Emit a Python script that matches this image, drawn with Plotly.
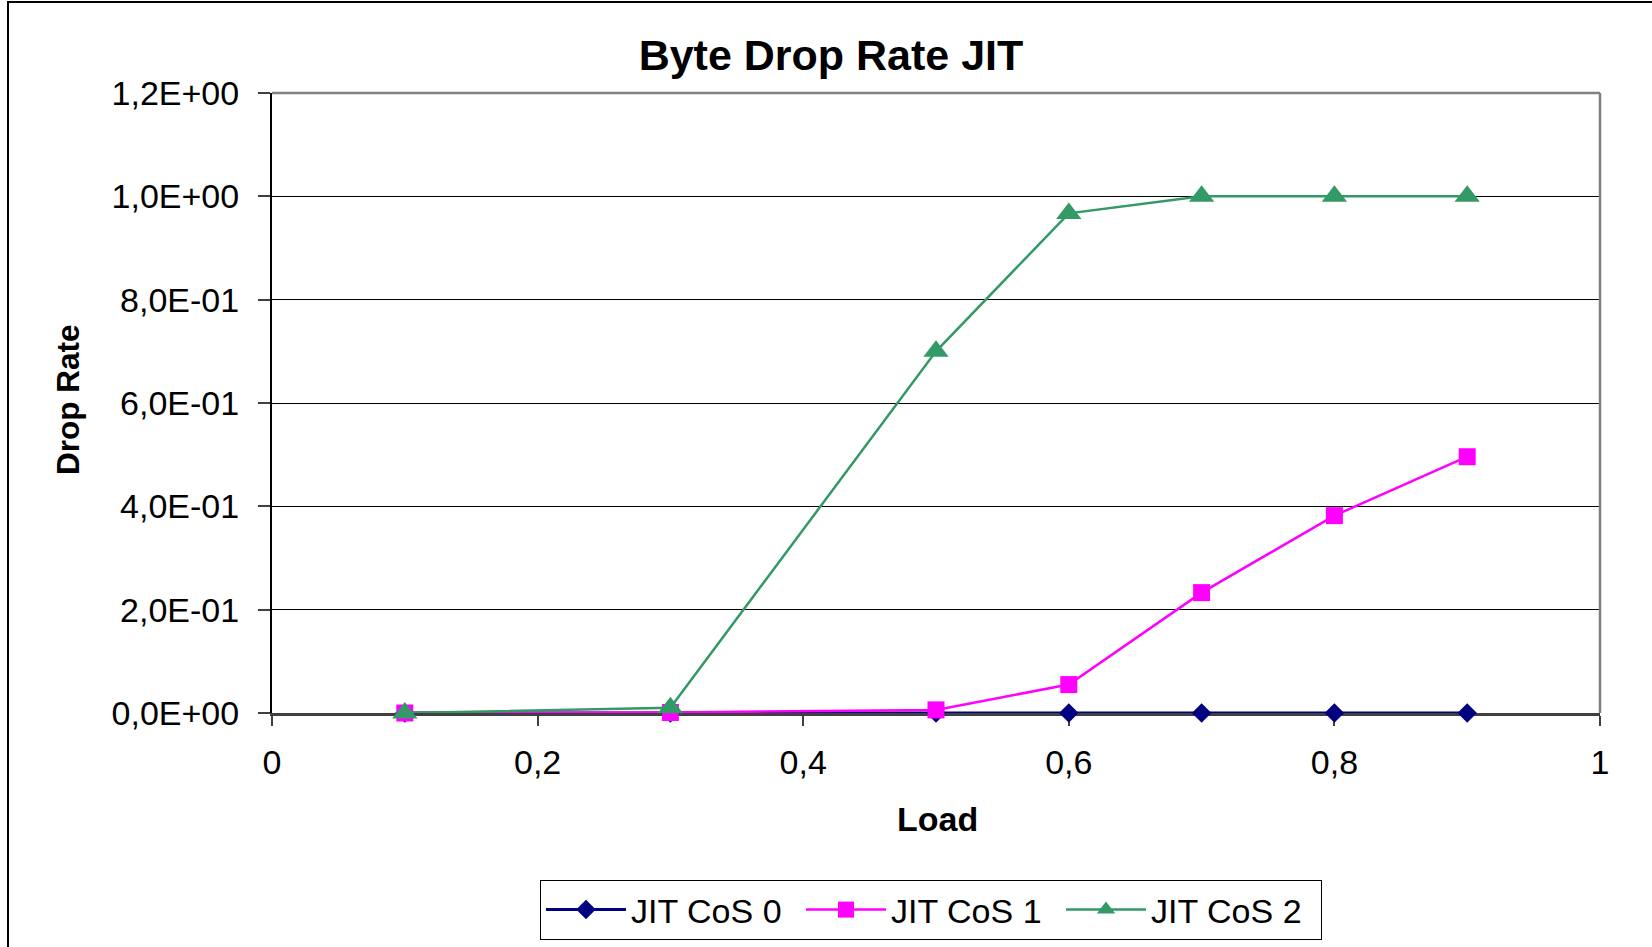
import plotly.graph_objects as go

load = [0.1, 0.3, 0.5, 0.6, 0.7, 0.8, 0.9]
cos0 = [0.0, 0.0, 0.0, 0.0, 0.0, 0.0, 0.0]
cos1 = [0.0, 0.001, 0.006, 0.055, 0.233, 0.382, 0.496]
cos2 = [0.0, 0.010, 0.700, 0.967, 1.0, 1.0, 1.0]
series_names = ["JIT CoS 0", "JIT CoS 1", "JIT CoS 2"]
y_ticks = [0.0, 0.2, 0.4, 0.6, 0.8, 1.0, 1.2]
y_tick_text = ["0,0E+00", "2,0E-01", "4,0E-01", "6,0E-01", "8,0E-01", "1,0E+00", "1,2E+00"]
x_ticks = [0, 0.2, 0.4, 0.6, 0.8, 1]
x_tick_text = ["0", "0,2", "0,4", "0,6", "0,8", "1"]

W, H = 1652, 947
L, R, T, B = 272, 52, 93, 234
pw, ph = W - L - R, H - T - B

def px_x(X):
    return (X - L) / pw

def px_y(Y):
    return (H - B - Y) / ph

FONT = "Liberation Sans, Arial, sans-serif"

fig = go.Figure()
fig.add_trace(go.Scatter(x=load, y=cos0, name=series_names[0], mode="lines+markers",
                         cliponaxis=False,
                         line=dict(color="#000080", width=3),
                         marker=dict(symbol="diamond", size=15, color="#000080")))
fig.add_trace(go.Scatter(x=load, y=cos1, name=series_names[1], mode="lines+markers",
                         cliponaxis=False,
                         line=dict(color="#FF00FF", width=2.5),
                         marker=dict(symbol="square", size=17, color="#FF00FF")))
fig.add_trace(go.Scatter(x=load, y=cos2, name=series_names[2], mode="lines+markers",
                         cliponaxis=False,
                         line=dict(color="#339966", width=2.5),
                         marker=dict(symbol="triangle-up", size=22, color="#339966")))

fig.update_layout(
    width=W, height=H,
    margin=dict(l=L, r=R, t=T, b=B, autoexpand=False),
    paper_bgcolor="white", plot_bgcolor="white",
    font=dict(family=FONT, color="black"),
    title=dict(text="<b>Byte Drop Rate JIT</b>", x=831 / W, xref="container", xanchor="center",
               y=1 - 55 / H, yref="container", yanchor="middle",
               font=dict(size=43, family=FONT, color="black")),
    showlegend=True,
    legend=dict(orientation="h", x=px_x(931), xanchor="center", y=px_y(880), yanchor="top",
                bordercolor="black", borderwidth=1, bgcolor="white",
                font=dict(size=34, family=FONT, color="black"),
                itemwidth=80, itemsizing="trace",
                entrywidth=165, entrywidthmode="pixels", tracegroupgap=0),
    xaxis=dict(range=[0, 1], tickvals=x_ticks, ticktext=x_tick_text,
               showgrid=False, zeroline=False, showline=True, linecolor="#404040", linewidth=3,
               ticks="outside", ticklen=10, tickcolor="#404040", tickwidth=1.5,
               layer="below traces",
               tickfont=dict(size=34, family=FONT, color="black"), ticklabelstandoff=7),
    yaxis=dict(range=[0, 1.2], tickvals=y_ticks, ticktext=y_tick_text,
               showgrid=True, gridcolor="black", gridwidth=1, zeroline=False,
               showline=True, linecolor="black", linewidth=2,
               ticks="outside", ticklen=12, tickcolor="#404040", tickwidth=1.5,
               layer="below traces",
               tickfont=dict(size=34, family=FONT, color="black"), ticklabelstandoff=12),
    annotations=[
        dict(text="<b>Load</b>", x=px_x(937), y=px_y(819), xref="paper", yref="paper",
             showarrow=False, xanchor="center", yanchor="middle",
             font=dict(size=34, family=FONT, color="black")),
        dict(text="<b>Drop Rate</b>", x=px_x(68), y=px_y(400), xref="paper", yref="paper",
             showarrow=False, xanchor="center", yanchor="middle", textangle=-90,
             font=dict(size=31.5, family=FONT, color="black")),
    ],
    shapes=[
        dict(type="line", xref="paper", yref="paper", x0=0, x1=1, y0=1, y1=1,
             line=dict(color="#808080", width=2.5)),
        dict(type="line", xref="paper", yref="paper", x0=1, x1=1, y0=0, y1=1,
             line=dict(color="#808080", width=2.5)),
        dict(type="rect", xref="paper", yref="paper", x0=px_x(8), x1=px_x(1665),
             y0=px_y(960), y1=px_y(2), line=dict(color="black", width=2)),
    ],
)

fig.write_html("out.html")
